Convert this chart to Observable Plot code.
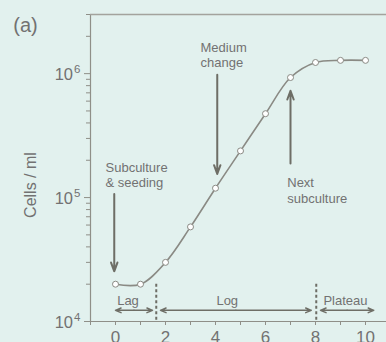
<!DOCTYPE html>
<html>
<head>
<meta charset="utf-8">
<script src="https://cdn.jsdelivr.net/npm/d3@7"></script>
<script src="https://cdn.jsdelivr.net/npm/@observablehq/plot@0.6"></script>
<style>
  html, body { margin: 0; padding: 0; background: #e2f1ee; }
  #chart svg { display: block; }
</style>
</head>
<body>
<div id="chart"></div>
<script>
// Growth curve data (days, cells/ml)
const days = [0, 1, 2, 3, 4, 5, 6, 7, 8, 9, 10];
const cells = [2.0e4, 2.0e4, 3.0e4, 5.8e4, 1.19e5, 2.38e5, 4.75e5, 9.3e5, 1.23e6, 1.28e6, 1.28e6];

// axis ticks
const xTicks = [-1, 0, 1, 2, 3, 4, 5, 6, 7, 8, 9, 10];
const xLabels = [0, 2, 4, 6, 8, 10];
const yMajor = [1e4, 1e5, 1e6];
const yMinor = [2e4, 3e4, 4e4, 5e4, 6e4, 7e4, 8e4, 9e4,
                2e5, 3e5, 4e5, 5e5, 6e5, 7e5, 8e5, 9e5,
                2e6, 3e6];
const yExponents = ["4", "5", "6"];

// annotations (data space)
const vArrowX = [-0.05, 4.07, 7.0];
const vArrowFrom = [1.07e5, 9.8e5, 1.88e5];
const vArrowTo = [2.54e4, 1.55e5, 7.28e5];

const noteLines = ["Subculture", "& seeding", "Medium", "change", "Next", "subculture"];
const noteX = [-0.4, -0.4, 3.4, 3.4, 6.87, 6.87];
const noteY = [1.74e5, 1.32e5, 1.63e6, 1.22e6, 1.32e5, 9.8e4];

const phaseNames = ["Lag", "Log", "Plateau"];
const phaseStart = [0, 1.8, 8.2];
const phaseEnd = [1.48, 7.83, 10.33];
const phaseLabelX = [0.5, 4.47, 9.2];
const phaseArrowY = 1.23e4;
const phaseLabelY = 1.48e4;
const phaseBounds = [1.63, 8.03];
const boundTop = 2.0e4;

const growth = days.map((d, i) => ({day: d, cells: cells[i]}));
const vArrows = vArrowX.map((x, i) => ({x, from: vArrowFrom[i], to: vArrowTo[i]}));
const notes = noteLines.map((t, i) => ({t, x: noteX[i], y: noteY[i]}));
const phases = phaseNames.map((n, i) => ({n, a: phaseStart[i], b: phaseEnd[i], m: (phaseStart[i] + phaseEnd[i]) / 2, lx: phaseLabelX[i]}));
const yLab = yMajor.map((v, i) => ({v, e: yExponents[i]}));

const axisColor = "#8f8f88";
const textColor = "#727272";
const arrowColor = "#6e6e66";
const font = "Liberation Sans, Arial, Helvetica, sans-serif";

const chart = Plot.plot({
  width: 386,
  height: 342,
  marginLeft: 90,
  marginRight: 0,
  marginTop: 14,
  marginBottom: 21,
  style: {background: "#e2f1ee", fontFamily: font, color: textColor, overflow: "visible"},
  x: {domain: [-1, 10.84], axis: null},
  y: {type: "log", domain: [1e4, 3e6], axis: null},
  marks: [
    // frame lines
    Plot.ruleX([-1], {stroke: axisColor, strokeWidth: 1.2}),
    Plot.ruleY([1e4], {stroke: axisColor, strokeWidth: 1.2}),
    Plot.ruleY([3e6], {stroke: "#a3a39d", strokeWidth: 1.5}),
    // x axis ticks & labels
    Plot.axisX({ticks: xTicks, tickSize: 4, stroke: axisColor, tickFormat: d => xLabels.includes(d) ? String(d) : "", fontSize: 17, fill: textColor, tickPadding: 5}),
    // y axis ticks
    Plot.axisY({ticks: yMinor, tickSize: 4, stroke: axisColor, tickFormat: () => ""}),
    Plot.axisY({ticks: yMajor, tickSize: 6, stroke: axisColor, tickFormat: () => ""}),
    // y tick labels 10^n
    Plot.text(yLab, {frameAnchor: "left", y: "v", text: () => "10", textAnchor: "end", dx: -17.5, dy: 1, fontSize: 16.5, fill: textColor}),
    Plot.text(yLab, {frameAnchor: "left", y: "v", text: "e", textAnchor: "start", dx: -16.5, dy: -4.5, fontSize: 11.5, fill: textColor}),
    // axis title and panel label
    Plot.text(["Cells / ml"], {frameAnchor: "left", text: d => d, textAnchor: "middle", rotate: -90, dx: -60, dy: 17, fontSize: 16, fill: textColor}),
    Plot.text(["(a)"], {frameAnchor: "top-left", text: d => d, textAnchor: "middle", lineAnchor: "middle", dx: -65, dy: 11, fontSize: 20, fill: textColor}),
    // growth curve
    Plot.line(growth, {x: "day", y: "cells", curve: "catmull-rom", stroke: "#8a8a84", strokeWidth: 1.6}),
    Plot.dot(growth, {x: "day", y: "cells", r: 3, fill: "white", stroke: "#8a8a84", strokeWidth: 1}),
    // vertical annotation arrows
    Plot.arrow(vArrows, {x1: "x", x2: "x", y1: "from", y2: "to", stroke: arrowColor, strokeWidth: 2, headLength: 7, headAngle: 40}),
    Plot.text(notes, {x: "x", y: "y", text: "t", textAnchor: "start", fontSize: 13, fill: textColor}),
    // phases
    Plot.arrow(phases, {x1: "m", x2: "a", y1: () => phaseArrowY, y2: () => phaseArrowY, stroke: arrowColor, strokeWidth: 1.5, headLength: 6, headAngle: 45}),
    Plot.arrow(phases, {x1: "m", x2: "b", y1: () => phaseArrowY, y2: () => phaseArrowY, stroke: arrowColor, strokeWidth: 1.5, headLength: 6, headAngle: 45}),
    Plot.text(phases, {x: "lx", y: () => phaseLabelY, text: "n", fontSize: 13, fill: textColor}),
    Plot.ruleX(phaseBounds, {y1: boundTop, y2: 1e4, stroke: arrowColor, strokeWidth: 2, strokeDasharray: "3,2.5"})
  ]
});
document.getElementById("chart").appendChild(chart);
</script>
</body>
</html>
